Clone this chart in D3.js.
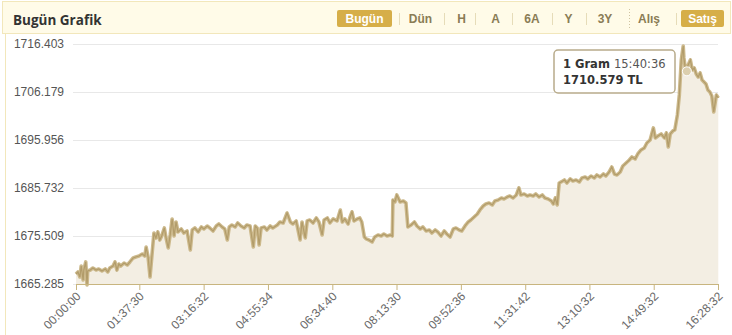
<!DOCTYPE html>
<html>
<head>
<meta charset="utf-8">
<script src="https://cdn.jsdelivr.net/npm/d3@7"></script>
<style>
  body { margin: 0; background: #fff; }
  #chart { width: 732px; height: 335px; }
  svg { display: block; font-family: "Liberation Sans", Arial, sans-serif; }
</style>
</head>
<body>
<div id="chart"></div>
<script>
// minutes since 00:00 and gram price (TL)
var times = [0,3,6,8,11,12,15,17,18,22,26,31,35,40,45,49,52,57,60,63,66,69,74,79,83,88,92,97,102,106,108,111,114,117,120,123,126,129,132,136,139,142,145,148,151,154,157,162,166,171,176,179,183,188,193,197,202,206,211,216,220,225,229,233,236,240,245,249,254,259,263,268,273,276,279,282,285,290,294,299,303,310,314,319,325,330,334,339,345,348,353,356,360,365,370,374,379,382,387,391,396,402,407,410,414,419,422,425,428,433,437,440,444,447,451,456,460,465,470,474,479,484,487,488,491,494,499,504,508,511,516,521,525,530,534,539,544,548,553,557,562,567,571,576,581,585,590,594,599,604,608,613,618,622,627,631,636,641,645,650,655,659,664,668,673,678,682,685,690,695,699,704,708,713,718,722,727,732,735,738,741,744,747,752,756,761,765,770,775,779,784,788,793,798,802,807,812,816,821,825,829,833,838,842,847,852,856,861,865,870,875,879,884,889,892,896,901,906,909,912,915,919,922,926,929,932,935,936,939,942,946,949,952,955,958,961,964,967,970,973,976,979,982,986,989];
var prices = [1667.42,1667.85,1666.78,1669.12,1666.14,1668.27,1669.98,1665.08,1668.06,1668.27,1668.70,1668.27,1668.49,1668.06,1668.49,1667.85,1668.70,1669.12,1669.98,1668.27,1669.55,1669.12,1669.76,1669.34,1669.98,1670.83,1671.04,1671.25,1671.68,1671.25,1673.17,1671.04,1666.78,1671.47,1676.15,1675.09,1676.37,1674.66,1675.51,1677.22,1674.88,1672.96,1675.73,1679.14,1675.51,1678.50,1676.37,1677.01,1676.15,1676.58,1672.53,1676.79,1677.22,1676.37,1677.43,1677.01,1677.64,1677.22,1676.58,1677.64,1678.07,1677.43,1677.01,1674.66,1677.43,1677.86,1677.43,1678.28,1677.64,1677.22,1677.86,1677.64,1673.17,1677.64,1677.22,1673.60,1677.22,1677.43,1676.79,1677.64,1677.22,1677.86,1678.50,1678.28,1680.41,1678.50,1678.07,1678.71,1674.66,1678.50,1675.09,1678.71,1678.92,1678.28,1679.35,1678.50,1675.73,1678.92,1679.35,1678.28,1679.14,1678.71,1681.05,1678.50,1679.14,1678.07,1679.56,1680.63,1678.71,1679.14,1679.35,1678.50,1675.30,1674.88,1674.66,1674.24,1675.30,1675.73,1675.51,1675.94,1675.51,1675.73,1675.51,1683.18,1682.76,1684.25,1682.76,1682.97,1682.54,1677.43,1677.86,1678.50,1677.64,1677.01,1677.43,1676.58,1676.79,1676.15,1676.79,1676.37,1675.51,1676.58,1675.94,1675.30,1677.01,1677.22,1676.79,1676.58,1677.64,1678.50,1678.92,1679.56,1680.20,1681.05,1681.90,1682.33,1682.54,1682.12,1682.97,1683.18,1683.61,1683.40,1683.82,1684.03,1683.61,1684.25,1685.74,1684.25,1684.46,1684.03,1684.25,1684.03,1684.46,1683.82,1684.25,1683.61,1683.40,1682.97,1682.33,1683.61,1682.12,1686.80,1687.02,1687.44,1686.80,1687.66,1687.23,1687.44,1687.02,1687.87,1688.08,1687.66,1688.29,1687.87,1688.51,1688.08,1688.72,1688.29,1689.15,1690.21,1688.72,1688.51,1689.15,1690.42,1691.06,1691.70,1692.34,1691.92,1692.98,1693.83,1694.26,1695.32,1695.96,1698.52,1696.39,1696.81,1697.24,1696.39,1697.45,1694.47,1697.24,1697.88,1698.09,1701.29,1705.55,1713.00,1715.98,1713.43,1710.45,1711.72,1713.00,1710.87,1711.30,1710.02,1709.38,1710.23,1708.74,1708.32,1707.89,1706.61,1706.19,1705.33,1701.93,1705.55,1704.91];

var xTickLabels = ["00:00:00","01:37:30","03:16:32","04:55:34","06:34:40","08:13:30","09:52:36","11:31:42","13:10:32","14:49:32","16:28:32"];
var yTicks = [1665.285,1675.509,1685.732,1695.956,1706.179,1716.403];

var buttons = ["Bugün","Dün","H","A","6A","Y","3Y","Alış","Satış"];
var activeButtons = ["Bugün","Satış"];

var tipLabel = "1 Gram";
var tipTime = "15:40:36";
var tipPrice = 1710.579;

var data = times.map(function(t, i) {
    return {t: t, v: prices[i]};
});

function toMinutes(s) {
    var p = s.split(":");
    return +p[0]*60 + +p[1] + +p[2]/60;
}

var width = 732;
var height = 335;
var margin = {top: 44, left: 76, right: 14, bottom: 51};

var svg = d3.select("#chart")
    .append("svg")
    .attr("width", width)
    .attr("height", height);

// header band
svg.append("rect")
    .attr("x", 2.5).attr("y", 1.5)
    .attr("width", width - 4).attr("height", 32)
    .attr("fill", "#fffbe8")
    .attr("stroke", "#f2e7bb");

svg.append("line")
    .attr("x1", 5.5).attr("x2", 5.5)
    .attr("y1", 34).attr("y2", height)
    .attr("stroke", "#f2e7bb");

svg.append("text")
    .attr("x", 13)
    .attr("y", 25)
    .attr("font-family", "'Open Sans', sans-serif")
    .attr("font-weight", "bold")
    .attr("font-size", 13.5)
    .attr("fill", "#333")
    .text("Bugün Grafik");

var btnCenters = [364.5, 420.5, 461.5, 495.5, 532, 568.5, 605, 649, 702.5];
var btnWidths = [55, 0, 0, 0, 0, 0, 0, 0, 43];
var seps = [399, 444, 475, 512, 552, 586, 676];

buttons.forEach(function(b, i) {
    var active = activeButtons.indexOf(b) >= 0;
    if (active) {
        svg.append("rect")
            .attr("x", btnCenters[i] - btnWidths[i]/2)
            .attr("y", 10)
            .attr("width", btnWidths[i])
            .attr("height", 17)
            .attr("rx", 2)
            .attr("fill", "#d6ae48");
    }
    svg.append("text")
        .attr("x", btnCenters[i])
        .attr("y", 23)
        .attr("text-anchor", "middle")
        .attr("font-weight", "bold")
        .attr("font-size", 12)
        .attr("fill", active ? "#fff" : "#8a7c55")
        .text(b);
});

seps.forEach(function(s) {
    svg.append("line")
        .attr("x1", s + 0.5).attr("x2", s + 0.5)
        .attr("y1", 13).attr("y2", 25)
        .attr("stroke", "#e6dcb8");
});

svg.append("line")
    .attr("x1", 629.5).attr("x2", 629.5)
    .attr("y1", 9).attr("y2", 28)
    .attr("stroke", "#cfc3a0")
    .attr("stroke-dasharray", "1,2");

var xScale = d3.scaleLinear()
    .domain([0, toMinutes(xTickLabels[xTickLabels.length - 1])])
    .range([margin.left, width - margin.right]);

var yScale = d3.scaleLinear()
    .domain([yTicks[0], yTicks[yTicks.length - 1]])
    .range([height - margin.bottom, margin.top]);

// grid + y labels
var yAxis = svg.append("g")
    .attr("transform", `translate(${margin.left - 3},0)`)
    .call(d3.axisLeft(yScale)
        .tickValues(yTicks)
        .tickFormat(d3.format(".3f"))
        .tickSize(-(width - margin.right - margin.left + 3))
        .tickPadding(9));

yAxis.select(".domain").remove();
yAxis.selectAll(".tick line").attr("stroke", "#e8e8e8");
yAxis.selectAll(".tick text")
    .attr("font-family", "'Liberation Sans', Arial, sans-serif")
    .attr("font-size", 12)
    .attr("fill", "#555");

var area = d3.area()
    .x(function(d) { return xScale(d.t); })
    .y0(yScale(yTicks[0]))
    .y1(function(d) { return yScale(d.v); });

var line = d3.line()
    .x(function(d) { return xScale(d.t); })
    .y(function(d) { return yScale(d.v); });

svg.append("path")
    .datum(data)
    .attr("d", area)
    .attr("fill", "#f3eee3");

svg.append("path")
    .datum(data)
    .attr("d", line)
    .attr("fill", "none")
    .attr("stroke", "#ccb98c")
    .attr("stroke-width", 3.6)
    .attr("stroke-linejoin", "round");

svg.append("path")
    .datum(data)
    .attr("d", line)
    .attr("fill", "none")
    .attr("stroke", "#b29c6a")
    .attr("stroke-width", 1.2);

var xAxis = svg.append("g")
    .attr("transform", `translate(0,${height - margin.bottom})`)
    .call(d3.axisBottom(xScale)
        .tickValues(xTickLabels.map(toMinutes))
        .tickFormat(function(d, i) { return xTickLabels[i]; })
        .tickSizeOuter(0)
        .tickSize(6));

xAxis.select(".domain").attr("stroke", "#c8b57f");
xAxis.selectAll(".tick line").attr("stroke", "#c8b57f");
xAxis.selectAll(".tick text")
    .attr("font-family", "'Liberation Sans', Arial, sans-serif")
    .attr("font-size", 12)
    .attr("fill", "#6a6a6a")
    .attr("text-anchor", "end")
    .attr("x", 0)
    .attr("y", 0)
    .attr("dx", 0)
    .attr("dy", "0.35em")
    .attr("transform", "translate(2,10) rotate(-45)");

// hover point + tooltip
var px = xScale(toMinutes(tipTime));
var py = yScale(tipPrice);

svg.append("circle")
    .attr("cx", px)
    .attr("cy", py)
    .attr("r", 4.5)
    .attr("fill", "#dccfae")
    .attr("stroke", "#fff")
    .attr("stroke-width", 1);

var tip = svg.append("g")
    .attr("transform", "translate(554,50)");

tip.append("rect")
    .attr("width", 121)
    .attr("height", 43)
    .attr("rx", 4)
    .attr("fill", "#fff")
    .attr("stroke", "#b8ab8a")
    .attr("stroke-width", 1.5);

var t1 = tip.append("text")
    .attr("x", 9)
    .attr("y", 18)
    .attr("font-family", "'DejaVu Sans', Verdana, sans-serif")
    .attr("font-size", 11.5)
    .attr("fill", "#333");
t1.append("tspan").attr("font-weight", "bold").text(tipLabel + " ");
t1.append("tspan").attr("fill", "#555").text(tipTime);

tip.append("text")
    .attr("x", 9)
    .attr("y", 34)
    .attr("font-family", "'DejaVu Sans', Verdana, sans-serif")
    .attr("font-size", 11.5)
    .attr("font-weight", "bold")
    .attr("fill", "#333")
    .text(d3.format(".3f")(tipPrice) + " TL");
</script>
</body>
</html>
